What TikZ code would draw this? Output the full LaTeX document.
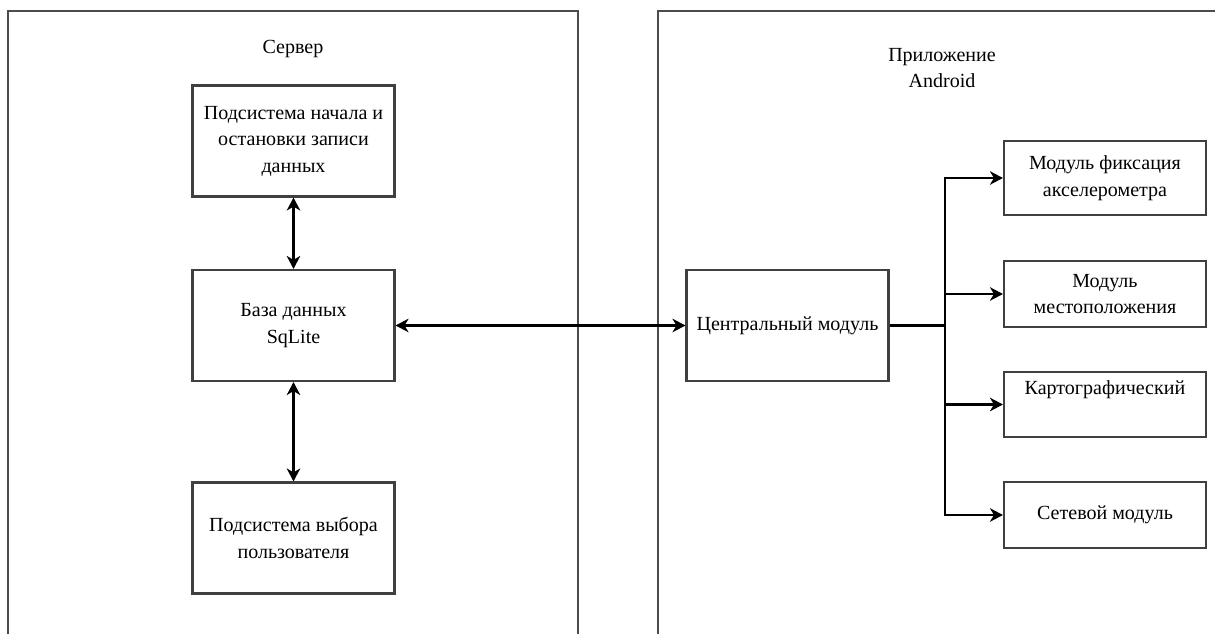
\documentclass[tikz,border=0pt]{standalone}
\usepackage{fontspec}
\setmainfont{Liberation Serif}
\usetikzlibrary{arrows.meta}

\begin{document}
\begin{tikzpicture}[x=0.02cm, y=-0.02cm,
  font=\fontsize{11.4}{15.1}\selectfont,
  block/.style={draw=black!75, line width=1.2pt, inner sep=0pt, align=center,
    minimum width=4.04cm},
  tall/.style={block, minimum height=2.22cm},
  flat/.style={block, minimum height=1.31cm},
  link/.style={line width=1.4pt, -{Stealth[length=0.26cm, width=0.27cm, inset=0.08cm]}},
  both/.style={link, {Stealth[length=0.26cm, width=0.27cm, inset=0.08cm]}-{Stealth[length=0.26cm, width=0.27cm, inset=0.08cm]}}]
\useasboundingbox (0,0) rectangle (1215,634);

% frames (open at the bottom)
\draw[black!70, line width=1.2pt] (8,640) -- (8,11) -- (578,11) -- (578,640);
\draw[black!70, line width=1.2pt] (658,640) -- (658,11) -- (1220,11);

\node (server) at (293,49) {Сервер};
\node[align=center] (app) at (942,68) {Приложение\\Android};

% server side
\node[tall] (rec) at (293.5,141) {Подсистема начала и\\остановки записи\\данных};
\node[tall] (db) at (293.5,325.5) {База данных\\SqLite};
\node[tall] (user) at (293.5,538) {Подсистема выбора\\пользователя};

\draw[both] (rec) -- (db);
\draw[both] (db) -- (user);

% android side
\node[tall] (core) at (787.5,325.5) {Центральный модуль};
\node[flat, minimum height=1.48cm] (accel) at (1105,178) {Модуль фиксация\\акселерометра};
\node[flat] (geo) at (1105,294) {Модуль\\местоположения};
\node[flat] (maps) at (1105,404.5) {Картографический\\\strut};
\node[flat] (net) at (1105,515) {Сетевой модуль};

\draw[both] (db.east) -- (core.west);

\coordinate (bus) at (945,325.5);
\draw[line width=1.4pt] (core.east) -- (bus);
\draw[link] (bus) |- (accel.west);
\draw[link] (bus) |- (geo.west);
\draw[link] (bus) |- (maps.west);
\draw[link] (bus) |- (net.west);
\end{tikzpicture}
\end{document}
